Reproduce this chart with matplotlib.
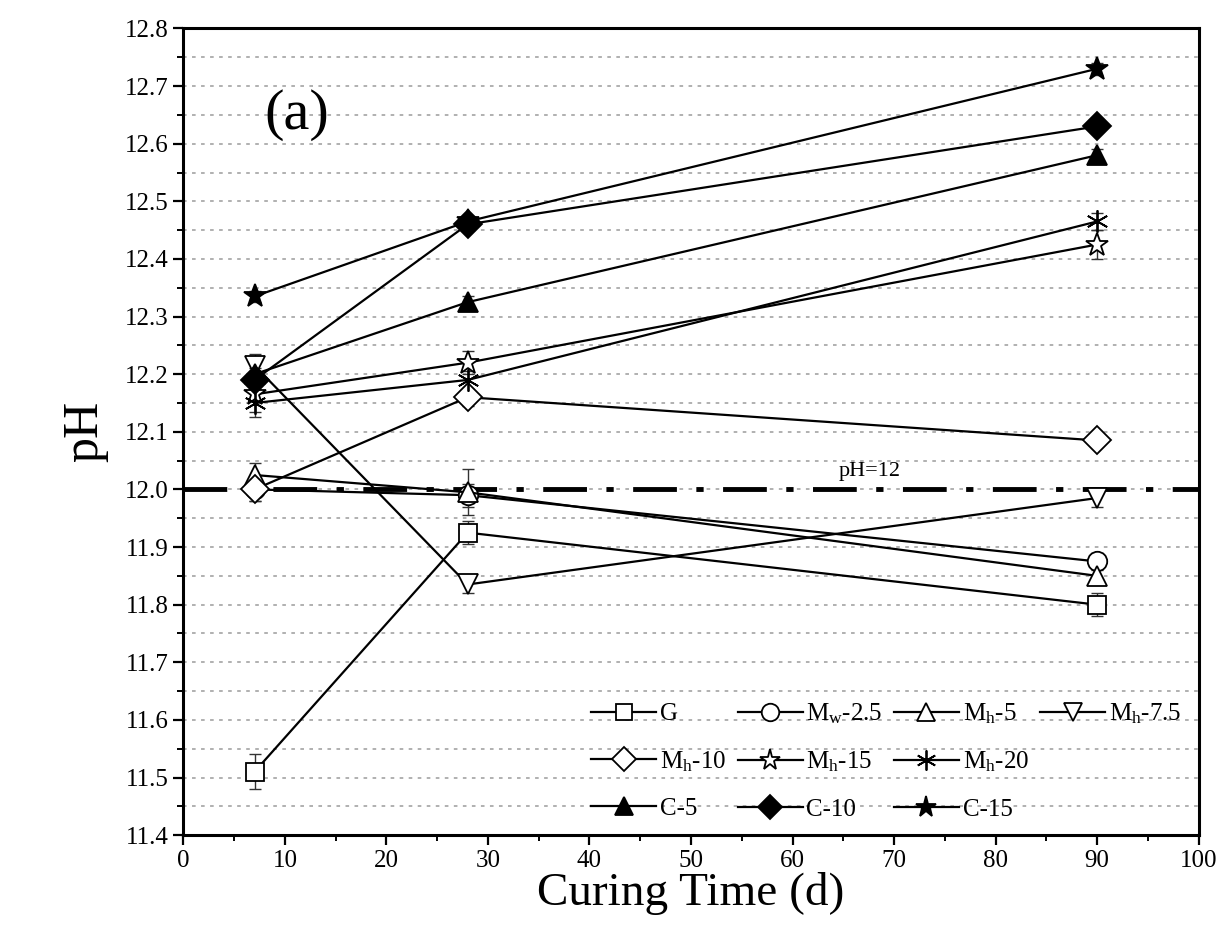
import matplotlib
matplotlib.use("Agg")
import matplotlib.pyplot as plt
from matplotlib.lines import Line2D
import numpy as np

plt.rcParams['font.family'] = ['Liberation Serif', 'DejaVu Serif']
plt.rcParams['mathtext.fontset'] = 'custom'
plt.rcParams['mathtext.rm'] = 'Liberation Serif'
plt.rcParams['mathtext.it'] = 'Liberation Serif'

days = [7, 28, 90]
labels = ['G', 'M$_w$-2.5', 'M$_h$-5', 'M$_h$-7.5', 'M$_h$-10', 'M$_h$-15',
          'M$_h$-20', 'C-5', 'C-10', 'C-15']
ph_G = [11.51, 11.925, 11.80]
ph_Mw25 = [12.00, 11.99, 11.875]
ph_Mh5 = [12.025, 11.995, 11.85]
ph_Mh75 = [12.215, 11.835, 11.985]
ph_Mh10 = [12.00, 12.16, 12.085]
ph_Mh15 = [12.165, 12.22, 12.425]
ph_Mh20 = [12.15, 12.19, 12.465]
ph_C5 = [12.20, 12.325, 12.58]
ph_C10 = [12.19, 12.46, 12.63]
ph_C15 = [12.335, 12.465, 12.73]
err_G = [0.03, 0.02, 0.02]
err_Mw25 = [0.02, 0.02, 0.015]
err_Mh5 = [0.02, 0.04, 0.015]
err_Mh75 = [0.02, 0.015, 0.015]
err_Mh10 = [0.02, 0.015, 0.01]
err_Mh15 = [0.03, 0.02, 0.025]
err_Mh20 = [0.025, 0.015, 0.015]
err_C5 = [0.01, 0.01, 0.01]
err_C10 = [0.01, 0.01, 0.01]
err_C15 = [0.01, 0.01, 0.01]

series = [ph_G, ph_Mw25, ph_Mh5, ph_Mh75, ph_Mh10, ph_Mh15, ph_Mh20, ph_C5, ph_C10, ph_C15]
errors = [err_G, err_Mw25, err_Mh5, err_Mh75, err_Mh10, err_Mh15, err_Mh20, err_C5, err_C10, err_C15]
markers = ['s', 'o', '^', 'v', 'D', '*', (6, 2, 0), '^', 'D', '*']
fills = ['white'] * 7 + ['black'] * 3
msizes = [13, 14, 15, 15, 14, 17, 16, 15, 14, 17]

fig = plt.figure(figsize=(12.23, 9.49), dpi=100)
ax = fig.add_axes([0.150, 0.120, 0.830, 0.850])

for y in np.arange(11.45, 12.80, 0.05):
    ax.axhline(y, color='#aaaaaa', lw=1.3, ls=(0, (2, 3)), zorder=0)

ax.axhline(12.0, color='black', lw=3.5, ls=(0, (9, 4, 1.5, 4)), zorder=1)
ax.text(64.5, 12.015, 'pH=12', fontsize=16, ha='left', va='bottom')

handles = []
for y, e, m, f, ms, lab in zip(series, errors, markers, fills, msizes, labels):
    ax.errorbar(days, y, yerr=e, fmt='none', ecolor='#333333', elinewidth=1.0,
                capsize=4, capthick=1.0, zorder=2)
    ln, = ax.plot(days, y, color='black', lw=1.6, marker=m, markersize=ms,
                  markerfacecolor=f, markeredgecolor='black', markeredgewidth=1.3,
                  label=lab, zorder=3)
    handles.append(ln)

blank = Line2D([], [], linestyle='none', marker='none')
order = [handles[0], handles[4], handles[7],
         handles[1], handles[5], handles[8],
         handles[2], handles[6], handles[9],
         handles[3], blank, blank]
order_labels = [labels[0], labels[4], labels[7],
                labels[1], labels[5], labels[8],
                labels[2], labels[6], labels[9],
                labels[3], '', '']
ax.legend(order, order_labels, ncol=4, loc='lower right', bbox_to_anchor=(1.005, -0.01),
          frameon=False, fontsize=18, handlelength=2.6, handletextpad=0.15,
          columnspacing=0.45, labelspacing=0.95, markerscale=0.9)

ax.text(8, 12.65, '(a)', fontsize=42, ha='left', va='center')

ax.set_xlim(0, 100)
ax.set_ylim(11.4, 12.8)
ax.set_xticks(np.arange(0, 101, 10))
ax.set_xticks(np.arange(0, 101, 5), minor=True)
ax.set_yticks(np.arange(11.4, 12.81, 0.1))
ax.set_yticks(np.arange(11.4, 12.81, 0.05), minor=True)
ax.set_yticklabels([f'{v:.1f}' for v in np.arange(11.4, 12.81, 0.1)])
ax.tick_params(which='major', direction='out', length=7, width=1.6, labelsize=18)
ax.tick_params(which='minor', direction='out', length=4, width=1.4)
for s in ax.spines.values():
    s.set_linewidth(2.2)

ax.set_xlabel('Curing Time (d)', fontsize=34, labelpad=0)
ax.set_ylabel('pH', fontsize=36, labelpad=12)

fig.savefig('out.png', dpi=100)
